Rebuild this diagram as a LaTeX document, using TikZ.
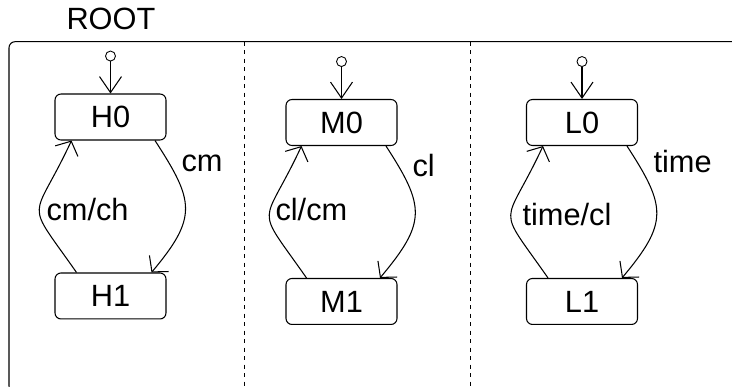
\documentclass[tikz,border=0pt]{standalone}
\usepackage{fontspec}
\setmainfont{Liberation Sans}
\usetikzlibrary{arrows.meta, positioning, calc}

\begin{document}
\begin{tikzpicture}[x=0.02cm, y=-0.02cm, ->, >={Straight Barb[length=0.22cm, width=0.5cm]}, line width=0.6pt, on grid,
                    every node/.style={font=\fontsize{17.5}{20}\selectfont, inner sep=0pt},
                    state/.style={rectangle, draw, rounded corners=0.12cm, minimum width=2.22cm, minimum height=0.92cm},
                    initdot/.style={circle, draw, line width=0.5pt, minimum size=0.2cm},
                    initarrow/.style={-{Straight Barb[length=0.32cm, width=0.44cm]}},
                    lbl/.style={anchor=base west} ]

                                \clip (0,0) rectangle (732,386);

                                \draw[-, rounded corners=0.12cm] (745,41.7) -- (9,41.7) -- (9,392) -- (745,392);
                                \draw[-, line width=0.5pt, dash pattern=on 0.08cm off 0.09cm] (244.5,41.7) -- (244.5,392);
                                \draw[-, line width=0.5pt, dash pattern=on 0.08cm off 0.09cm] (470,41.7) -- (470,392);

                                \node (root) [lbl] at (66,29.3) {ROOT};

                                \node (H0) [state] at (110.5,117) {H0};
                                \node (H1) [state, below=3.58cm of H0] {H1};
                                \node (M0) [state] at (341.5,122.5) {M0};
                                \node (M1) [state, below=3.58cm of M0] {M1};
                                \node (L0) [state] at (582,122.5) {L0};
                                \node (L1) [state, below=3.58cm of L0] {L1};

                                \node (h0i) [initdot, above=0.64cm of H0.north] {};
                                \node (m0i) [initdot, above=0.64cm of M0.north] {};
                                \node (l0i) [initdot, above=0.64cm of L0.north] {};

                                \draw[initarrow] (h0i) -- (H0);
                                \draw[initarrow] (m0i) -- (M0);
                                \draw[initarrow] (l0i) -- (L0);

                                \draw ([xshift=0.89cm]H0.south) to[out=-57, in=50, looseness=1.4] ([xshift=0.82cm]H1.north);
                                \draw ([xshift=-0.68cm]H1.north) to[out=125, in=-115, looseness=1.8] ([xshift=-0.78cm]H0.south);
                                \draw ([xshift=0.89cm]M0.south) to[out=-57, in=50, looseness=1.4] ([xshift=0.77cm]M1.north);
                                \draw ([xshift=-0.70cm]M1.north) to[out=125, in=-115, looseness=1.8] ([xshift=-0.80cm]M0.south);
                                \draw ([xshift=0.90cm]L0.south) to[out=-57, in=50, looseness=1.4] ([xshift=0.80cm]L1.north);
                                \draw ([xshift=-0.68cm]L1.north) to[out=125, in=-115, looseness=1.8] ([xshift=-0.78cm]L0.south);

                                \node (cmH) [lbl] at (181,171.7) {cm};
                                \node (cmchH) [lbl] at (46,220) {cm/ch};
                                \node (clM) [lbl] at (412,176.7) {cl};
                                \node (clcmM) [lbl] at (275,220) {cl/cm};
                                \node (timeL) [lbl] at (653,172.7) {time};
                                \node (timeclL) [lbl] at (522,225) {time/cl};
                        \end{tikzpicture}
\end{document}
